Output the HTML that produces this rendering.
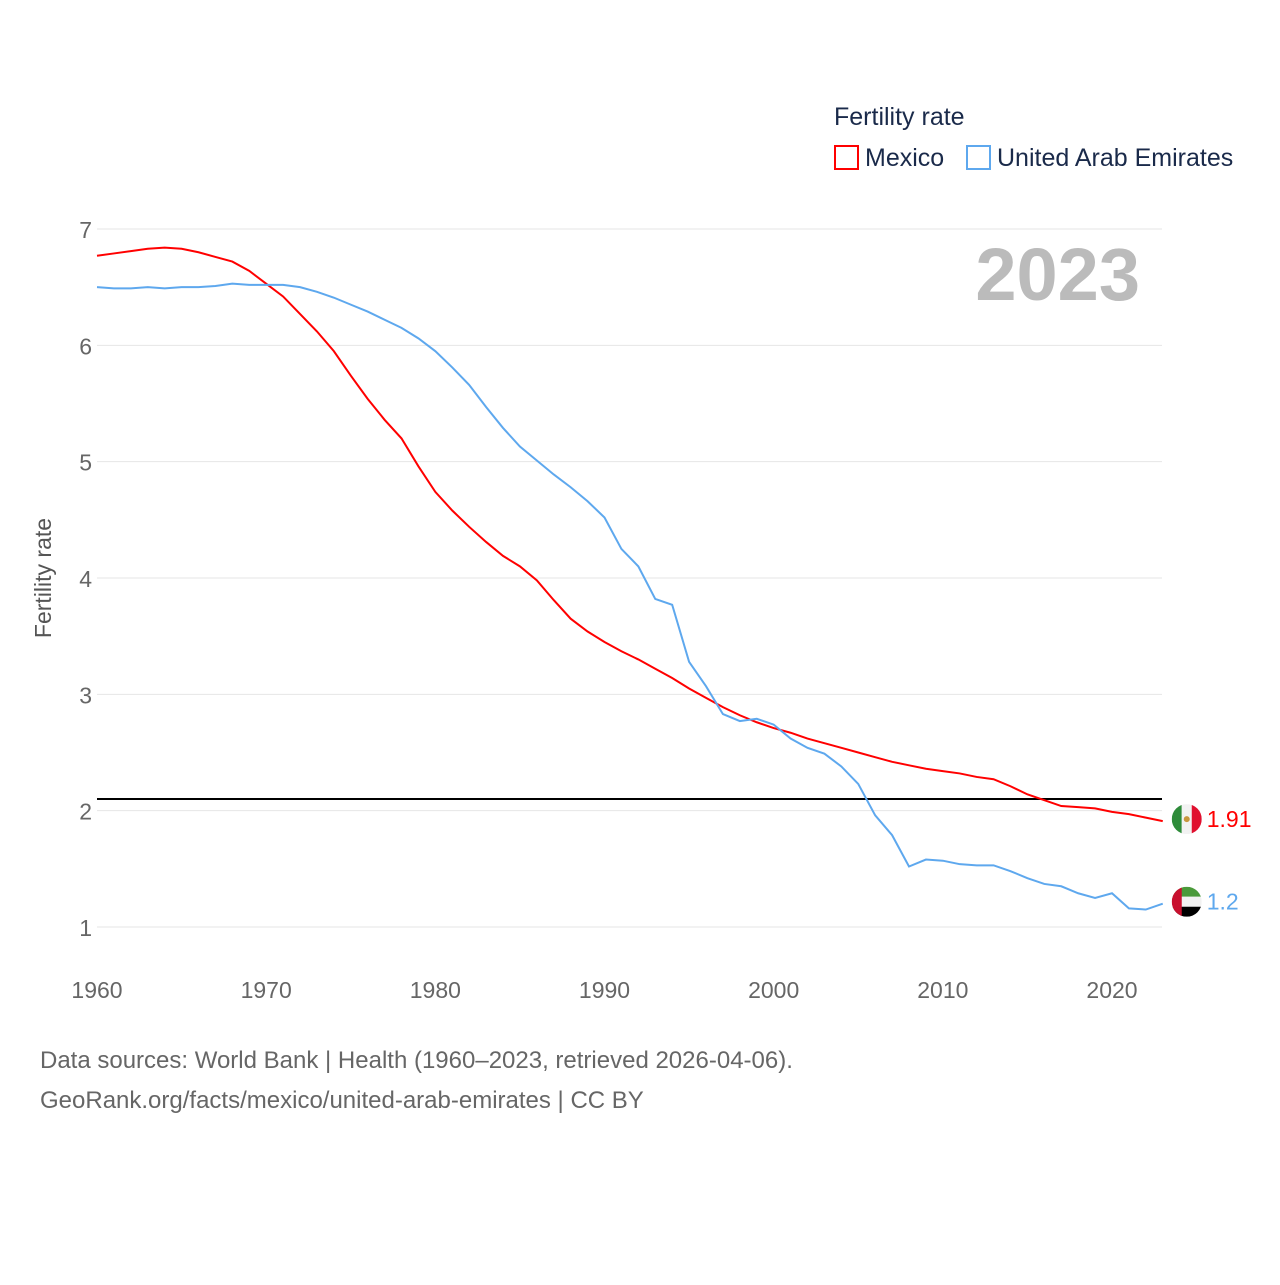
<!DOCTYPE html>
<html><head><meta charset="utf-8"><style>
body{margin:0;background:#fff;width:1280px;height:1280px;overflow:hidden;font-family:"Liberation Sans",sans-serif}
</style></head><body>
<svg id="c" width="1280" height="1280" font-family="Liberation Sans, sans-serif">
<text x="834" y="125" font-size="25" fill="#1a2a4a">Fertility rate</text>
<rect x="835" y="146" width="23" height="23" fill="none" stroke="#f00" stroke-width="2"/>
<text x="865" y="166" font-size="25" fill="#1a2a4a">Mexico</text>
<rect x="967" y="146" width="23" height="23" fill="none" stroke="#5ea8ee" stroke-width="2"/>
<text x="997" y="166" font-size="25" fill="#1a2a4a">United Arab Emirates</text>
<text x="1140" y="300" font-size="74" font-weight="bold" fill="#bbb" text-anchor="end">2023</text>
<text transform="translate(51,578) rotate(-90)" font-size="23" fill="#555" text-anchor="middle">Fertility rate</text>
<g id="grid"></g><g id="series"></g>
<text x="40" y="1068" font-size="24" fill="#666">Data sources: World Bank | Health (1960–2023, retrieved 2026-04-06).</text>
<text x="40" y="1108" font-size="24" fill="#666">GeoRank.org/facts/mexico/united-arab-emirates | CC BY</text>
</svg>
<script>
const years=[];for(let y=1960;y<=2023;y++)years.push(y);
const mexico=[6.77,6.79,6.81,6.83,6.84,6.83,6.80,6.76,6.72,6.64,6.53,6.42,6.27,6.12,5.95,5.74,5.54,5.36,5.20,4.96,4.74,4.58,4.44,4.31,4.19,4.10,3.98,3.81,3.65,3.54,3.45,3.37,3.30,3.22,3.14,3.05,2.97,2.89,2.82,2.76,2.71,2.67,2.62,2.58,2.54,2.50,2.46,2.42,2.39,2.36,2.34,2.32,2.29,2.27,2.21,2.14,2.09,2.04,2.03,2.02,1.99,1.97,1.94,1.91];
const uae=[6.50,6.49,6.49,6.50,6.49,6.50,6.50,6.51,6.53,6.52,6.52,6.52,6.50,6.46,6.41,6.35,6.29,6.22,6.15,6.06,5.95,5.81,5.66,5.47,5.29,5.13,5.01,4.89,4.78,4.66,4.52,4.25,4.10,3.82,3.77,3.28,3.07,2.83,2.77,2.79,2.74,2.62,2.54,2.49,2.38,2.23,1.96,1.79,1.52,1.58,1.57,1.54,1.53,1.53,1.48,1.42,1.37,1.35,1.29,1.25,1.29,1.16,1.15,1.20];
const yTicks=[1,2,3,4,5,6,7];
const xTicks=[1960,1970,1980,1990,2000,2010,2020];
const replacement=2.1;
const X=y=>97+(y-1960)*(1112-97)/60;
const Y=v=>927-(v-1)*(927-229)/6;
const NS="http://www.w3.org/2000/svg";
function mk(t,a,p){const e=document.createElementNS(NS,t);for(const k in a)e.setAttribute(k,a[k]);p.appendChild(e);return e;}
const g=document.getElementById('grid'),s=document.getElementById('series');
yTicks.forEach(v=>{
 const l=mk('line',{x1:97,x2:1162,y1:Y(v),y2:Y(v),stroke:'#e6e6e6','stroke-width':1},g);
 
 
 const t=mk('text',{x:92,y:Y(v)+9,'font-size':23,fill:'#666','text-anchor':'end'},g);t.textContent=v;
 
 
});
xTicks.forEach(v=>{
 const t=mk('text',{x:X(v),y:998,'font-size':23,fill:'#666','text-anchor':'middle'},g);t.textContent=v;
 
 
});
const ref=mk('line',{x1:97,x2:1162,y1:Y(replacement),y2:Y(replacement),stroke:'#000','stroke-width':2},s);


const defs=mk('defs',{},s);
function flag(name,cx,cy){
 const cp=mk('clipPath',{id:'cp-'+name},defs);
 mk('circle',{cx:cx,cy:cy,r:15},cp);
 const fg=mk('g',{'clip-path':'url(#cp-'+name+')'},s);
 
 
 if(name==='mexico'){
  mk('rect',{x:cx-15,y:cy-15,width:10,height:30,fill:'#2e8b3a'},fg);
  mk('rect',{x:cx-5,y:cy-15,width:10,height:30,fill:'#f2f2f2'},fg);
  mk('rect',{x:cx+5,y:cy-15,width:10,height:30,fill:'#e0102f'},fg);
  mk('circle',{cx:cx,cy:cy,r:3,fill:'#c8963e'},fg);
 }else{
  mk('rect',{x:cx-15,y:cy-15,width:30,height:10,fill:'#4a9a3a'},fg);
  mk('rect',{x:cx-15,y:cy-5,width:30,height:10,fill:'#f2f2f2'},fg);
  mk('rect',{x:cx-15,y:cy+5,width:30,height:10,fill:'#000'},fg);
  mk('rect',{x:cx-15,y:cy-15,width:10,height:30,fill:'#c8102e'},fg);
 }
}
function line(vals,col,name){
 const p=mk('polyline',{points:vals.map((v,i)=>X(years[i])+','+Y(v)).join(' '),fill:'none',stroke:col,'stroke-width':2},s);
 
 
 const last=vals[vals.length-1],lx=X(years[years.length-1]);
 flag(name,lx+24,Y(last)-2);
 const t=mk('text',{x:lx+44,y:Y(last)+6,'font-size':23,fill:col},s);t.textContent=last;
 
 
}
line(mexico,'#ff0000','mexico');
line(uae,'#5ea8ee','uae');
</script>
</body></html>
